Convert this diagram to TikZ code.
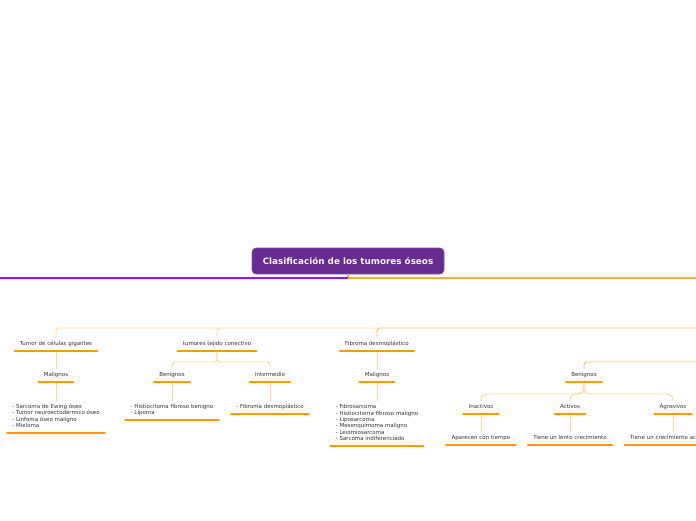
\documentclass[tikz,border=0pt]{standalone}
\usepackage{fontspec}
\setmainfont{DejaVu Sans}
\definecolor{rootfill}{HTML}{672C90}
\definecolor{violetline}{HTML}{9B10F5}
\definecolor{orangeline}{HTML}{FFAA33}
\definecolor{connc}{HTML}{FFD699}
\definecolor{busc}{HTML}{FFC266}
\definecolor{ulc}{HTML}{FF9900}
\definecolor{txt}{HTML}{333333}
\begin{document}
\begin{tikzpicture}[x=1pt,y=-1pt,
  rootbox/.style={fill=rootfill, draw=rootfill!80!white, line width=0.6pt, rounded corners=4pt,
    minimum width=192pt, minimum height=26pt, inner sep=0pt, text=white!95!rootfill,
    font=\bfseries\fontsize{8.8}{10}\selectfont},
  topic/.style={anchor=south, inner xsep=5pt, inner ysep=3.2pt,
    font=\fontsize{5.5}{6.4}\selectfont, text=txt, text height=4pt, text depth=1.9pt},
  listtopic/.style={anchor=south, inner xsep=5pt, inner ysep=3.2pt,
    font=\fontsize{5.5}{6.4}\selectfont, text=txt, align=left},
  conn/.style={draw=connc, line width=0.9pt, rounded corners=3pt},
  busline/.style={draw=busc, line width=0.9pt, rounded corners=3pt},
  uline/.style={draw=ulc, line width=2.6pt, line cap=round},
  mainv/.style={draw=violetline, line width=1.1pt},
  maino/.style={draw=orangeline, line width=1.1pt}
]
\useasboundingbox (0,0) rectangle (696,520);
\clip (0,0) rectangle (696,520);

% root
\node[rootbox] (root) at (348,261) {Clasificación de los tumores óseos};
\coordinate (eL) at (-4,278);
\coordinate (eR) at (704,278);
\coordinate (bus) at (704,328);
\coordinate (bus2) at (704,362);

\draw[maino] (root.south) |- (eR);
\draw[mainv] (eL) -- (eL -| root.south);

% level 1
\node[topic] (t1) at (56,351) {Tumor de células gigantes};
\node[topic] (t2) at (217,351) {tumores tejido conectivo};
\node[topic] (t3) at (377,351) {Fibroma desmoplástico};

% level 2
\node[topic] (m1) at (56,382) {Malignos};
\node[topic] (b2) at (172,382) {Benignos};
\node[topic] (i2) at (270,382) {Intermedio};
\node[topic] (m3) at (377,382) {Malignos};
\node[topic] (b4) at (584,382) {Benignos};

% level 3 lists
\node[listtopic] (l1) at (56,433) {- Sarcoma de Ewing óseo\\- Tumor neuroectodérmico óseo\\- Linfoma óseo maligno\\- Mieloma\strut};
\node[listtopic] (l2) at (172,420) {- Histiocitoma fibroso benigno\\- Lipoma\strut};
\node[listtopic] (l3) at (270,414) {- Fibroma desmoplástico\strut};
\node[listtopic] (l4) at (377,446) {- Fibrosarcoma\\- Histiocitoma fibroso maligno\\- Liposarcoma\\- Mesenquimoma maligno\\- Leiomiosarcoma\\- Sarcoma indiferenciado\strut};

% benignos subtree
\node[topic] (in5) at (481,414) {Inactivos};
\node[topic] (ac5) at (570,414) {Activos};
\node[topic] (ag5) at (673,414) {Agresivos};
\node[topic] (ap6) at (481,445) {Aparecen con tiempo};
\node[topic] (tl6) at (570,445) {Tiene un lento crecimiento};
\node[topic, text width=86pt, align=left] (tc6) at (673,445) {Tiene un crecimiento ac};

% bus connectors
\draw[busline] (bus) -| (t3.north);
\draw[conn] (bus -| t3.north) -| (t2.north);
\draw[conn] (bus -| t2.north) -| (t1.north);
\draw[busline] (bus2) -| (b4.north);

% vertical connectors
\draw[conn] (t1.south) -- (m1.north);
\draw[conn] (m1.south) -- (l1.north);
\draw[conn] (t2.south) -- ++(0,11) -| (b2.north);
\draw[conn] (t2.south) -- ++(0,11) -| (i2.north);
\draw[conn] (b2.south) -- (l2.north);
\draw[conn] (i2.south) -- (l3.north);
\draw[conn] (t3.south) -- (m3.north);
\draw[conn] (m3.south) -- (l4.north);
\draw[conn, rounded corners=6pt] (b4.south) -- ++(0,12) -| (in5.north);
\draw[conn, rounded corners=6pt] (b4.south) -- ++(0,12) -| (ac5.north);
\draw[conn, rounded corners=6pt] (b4.south) -- ++(0,12) -| (ag5.north);
\draw[conn] (in5.south) -- (ap6.north);
\draw[conn] (ac5.south) -- (tl6.north);
\draw[conn] (ag5.south) -- (ag5.south |- tc6.north);

% underlines
\foreach \n in {t1,t2,t3,m1,b2,i2,m3,b4,l1,l2,l3,l4,in5,ac5,ag5,ap6,tl6,tc6}
  \draw[uline] (\n.south west) -- (\n.south east);
\end{tikzpicture}
\end{document}
